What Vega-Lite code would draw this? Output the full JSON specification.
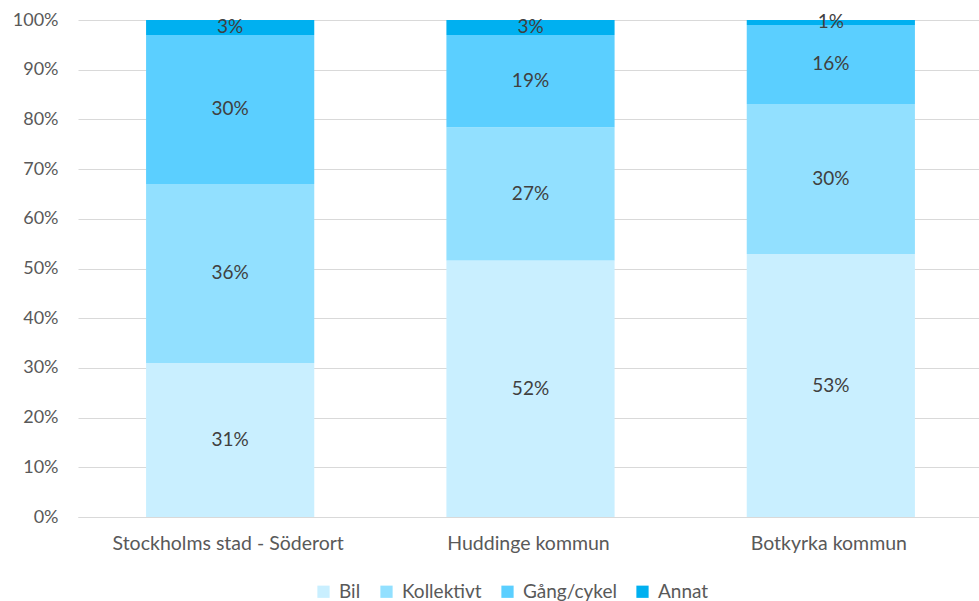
{
  "$schema": "https://vega.github.io/schema/vega-lite/v6.json",
  "autosize": "none",
  "width": 901,
  "height": 497,
  "padding": {"left": 78, "top": 20, "right": 0, "bottom": 84},
  "background": "white",
  "config": {
    "view": {"stroke": null},
    "font": "Lato",
    "axis": {"labelFont": "Lato", "labelFontSize": 17, "labelColor": "#595959"},
    "legend": {"labelFont": "Lato", "labelFontSize": 19, "labelColor": "#595959"}
  },
  "data": {
    "values": [
      {"omrade": "Stockholms stad - Söderort", "fardmedel": "Bil", "ordning": 1, "andel": 0.31},
      {"omrade": "Stockholms stad - Söderort", "fardmedel": "Kollektivt", "ordning": 2, "andel": 0.36},
      {"omrade": "Stockholms stad - Söderort", "fardmedel": "Gång/cykel", "ordning": 3, "andel": 0.30},
      {"omrade": "Stockholms stad - Söderort", "fardmedel": "Annat", "ordning": 4, "andel": 0.03},
      {"omrade": "Huddinge kommun", "fardmedel": "Bil", "ordning": 1, "andel": 0.516},
      {"omrade": "Huddinge kommun", "fardmedel": "Kollektivt", "ordning": 2, "andel": 0.268},
      {"omrade": "Huddinge kommun", "fardmedel": "Gång/cykel", "ordning": 3, "andel": 0.186},
      {"omrade": "Huddinge kommun", "fardmedel": "Annat", "ordning": 4, "andel": 0.03},
      {"omrade": "Botkyrka kommun", "fardmedel": "Bil", "ordning": 1, "andel": 0.529},
      {"omrade": "Botkyrka kommun", "fardmedel": "Kollektivt", "ordning": 2, "andel": 0.302},
      {"omrade": "Botkyrka kommun", "fardmedel": "Gång/cykel", "ordning": 3, "andel": 0.159},
      {"omrade": "Botkyrka kommun", "fardmedel": "Annat", "ordning": 4, "andel": 0.01}
    ]
  },
  "transform": [
    {"stack": "andel", "groupby": ["omrade"], "sort": [{"field": "ordning", "order": "ascending"}], "as": ["y0", "y1"], "offset": "normalize"},
    {"calculate": "(datum.y0 + datum.y1) / 2", "as": "ymid"}
  ],
  "encoding": {
    "x": {
      "field": "omrade",
      "type": "nominal",
      "sort": ["Stockholms stad - Söderort", "Huddinge kommun", "Botkyrka kommun"],
      "scale": {"paddingInner": 0.44, "paddingOuter": 0.22},
      "axis": {"title": null, "labelAngle": 0, "ticks": false, "domainColor": "#D9D9D9", "domainWidth": 1, "labelPadding": 17, "labelLimit": 0, "labelOverlap": false, "labelFontSize": 19.5, "offset": 0}
    }
  },
  "layer": [
    {
      "mark": {"type": "bar", "xOffset": 2},
      "encoding": {
        "y": {
          "field": "y0",
          "type": "quantitative",
          "scale": {"domain": [0, 1]},
          "axis": {"title": null, "format": ".0%", "values": [0,0.1,0.2,0.3,0.4,0.5,0.6,0.7,0.8,0.9,1], "labelOverlap": false, "grid": true, "gridColor": "#D9D9D9", "gridWidth": 1, "domain": false, "ticks": false, "labelPadding": 20, "labelFontSize": 18}
        },
        "y2": {"field": "y1"},
        "color": {
          "field": "fardmedel",
          "type": "nominal",
          "scale": {"domain": ["Bil", "Kollektivt", "Gång/cykel", "Annat"], "range": ["#C9EFFF", "#92E0FF", "#5BCFFF", "#00B0F0"]},
          "legend": {"title": null, "orient": "none", "legendX": 236, "legendY": 562, "direction": "horizontal", "symbolType": "square", "symbolSize": 150, "symbolStrokeWidth": 0, "columnPadding": 16, "labelOffset": 6}
        }
      }
    },
    {
      "mark": {"type": "text", "fontSize": 19, "color": "#404040", "baseline": "middle", "font": "Lato", "xOffset": 2},
      "encoding": {
        "y": {"field": "ymid", "type": "quantitative"},
        "text": {"field": "andel", "type": "quantitative", "format": ".0%"}
      }
    }
  ]
}
